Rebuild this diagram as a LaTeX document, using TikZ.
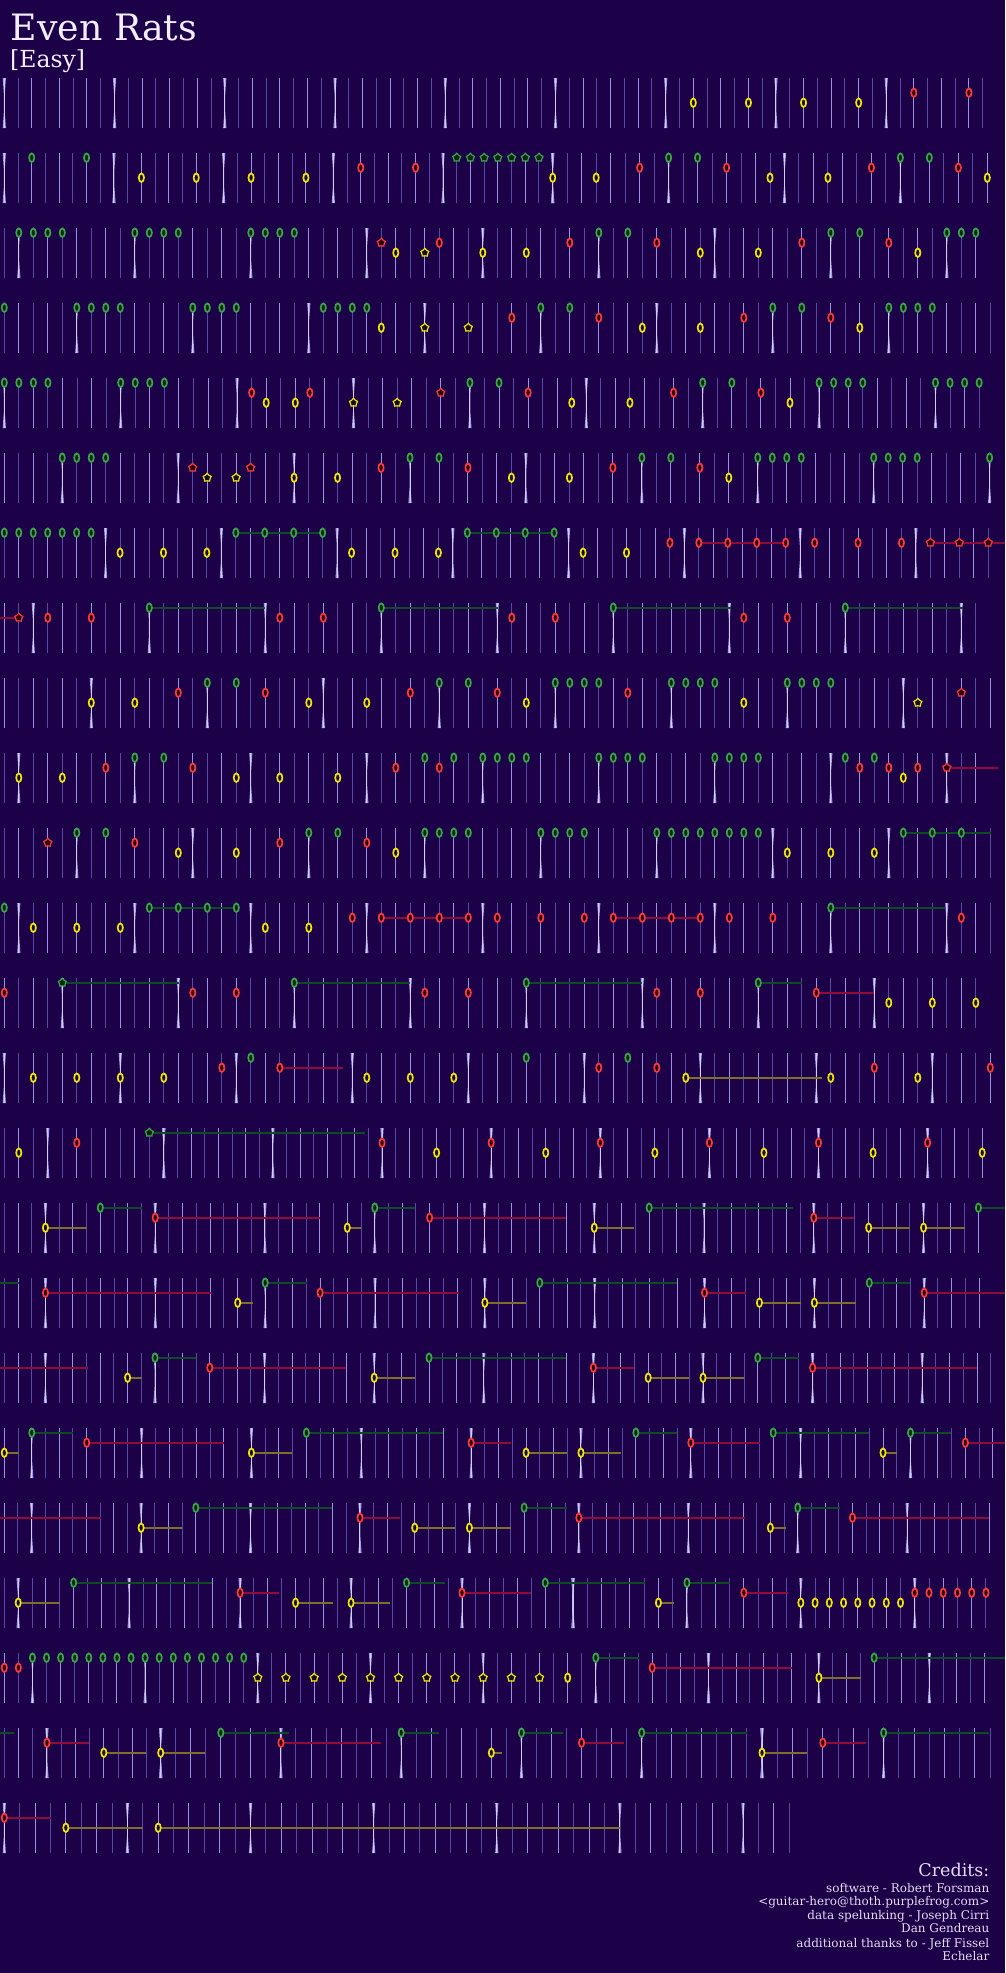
\documentclass[tikz,border=0pt]{standalone}
\usepackage{fontspec}
\setmainfont{DejaVu Serif}
\definecolor{bg}{HTML}{1C0048}
\definecolor{measc}{HTML}{D4CEFF}
\definecolor{measglow}{HTML}{A49CEE}
\definecolor{beatc}{HTML}{9A92E2}
\definecolor{halfc}{HTML}{5848A8}
\definecolor{ng}{HTML}{3FA34D}
\definecolor{fg}{HTML}{06260C}
\definecolor{nr}{HTML}{FF3B3B}
\definecolor{fr}{HTML}{240006}
\definecolor{ny}{HTML}{F2E411}
\definecolor{fy}{HTML}{141000}
\definecolor{sg}{HTML}{0F4A24}
\definecolor{sr}{HTML}{8E0B3A}
\definecolor{sy}{HTML}{7F6E2E}
\definecolor{titlec}{HTML}{F2EEFF}
\definecolor{credc}{HTML}{E4DCF2}
\def\laneg{4.7}\def\laner{14.7}\def\laney{24.7}
\newcommand\snapto[1]{%
  \xdef\sx{#1}%
  \foreach \sa/\ss/\sn/\sp in \segs {%
    \pgfmathtruncatemacro\ok{and(#1>=\sa-\ss/2, #1<\sa+\sn*\ss+\ss/2)}%
    \ifnum\ok=1
      \pgfmathsetmacro\tmpx{\sa+round((#1-\sa)/\ss)*\ss}%
      \xdef\sx{\tmpx}%
    \fi
  }%
}
\newcommand\chartrow[3]{%
  \def\segs{#2}%
  \pgfmathsetmacro\T{78+75*(#1-1)}%
  \foreach \a/\s/\n/\p in \segs {%
    \foreach \i in {0,...,\n} {%
      \pgfmathsetmacro\xx{\a+\i*\s}%
      \pgfmathtruncatemacro\m{mod(\i+\p,8)}%
      \pgfmathtruncatemacro\h{mod(\i+\p,2)}%
      \ifnum\m=0
        \fill[measglow] (\xx-1.6,\T) -- (\xx+1.6,\T) -- (\xx+0.4,\T+17) -- (\xx+0.4,\T+33) -- (\xx+1.6,\T+50) -- (\xx-1.6,\T+50) -- (\xx-0.4,\T+33) -- (\xx-0.4,\T+17) -- cycle;
        \draw[measc,line width=1pt] (\xx,\T) -- (\xx,\T+50);
      \else\ifnum\h=0
        \draw[beatc,line width=1pt] (\xx,\T) -- (\xx,\T+50);
      \else
        \draw[halfc,line width=1pt] (\xx,\T) -- (\xx,\T+50);
      \fi\fi
    }%
  }%
  \foreach \x/\l/\t/\e in {#3} {%
    \pgfmathsetmacro\ly{\T+\csname lane\l\endcsname}%
    \if\t n%
      \draw[draw=s\l,line width=2pt] (0,\ly) -- (\e,\ly);%
    \else
      \snapto{\x}%
      \ifdim\e pt>0pt \draw[draw=s\l,line width=2pt] (\sx,\ly) -- (\e,\ly);\fi
      \if\t s%
        \filldraw[draw=n\l,fill=f\l,line width=1.2pt,shift={(\sx,\ly)}] (90:4.4pt) -- (126:3.1pt) -- (162:4.2pt) -- (198:3.1pt) -- (234:4.2pt) -- (270:3.1pt) -- (306:4.2pt) -- (342:3.1pt) -- (18:4.2pt) -- (54:3.1pt) -- cycle;%
      \else
        \filldraw[draw=n\l,fill=f\l,line width=1.7pt] (\sx,\ly) ellipse [x radius=2.6pt,y radius=4.3pt];%
      \fi
    \fi
  }%
}
\tikzset{
  credit/.style={anchor=base east,inner sep=0pt,text=credc,font=\fontsize{12}{14}\selectfont},
  creditbig/.style={anchor=base east,inner sep=0pt,text=credc,font=\fontsize{17.5}{20}\selectfont}
}
\begin{document}
\begin{tikzpicture}[x=1pt,y=-1pt]
\useasboundingbox (0,0) rectangle (1005,1973);
\fill[bg] (0,0) rectangle (1005,1973);
\node[anchor=base west,inner sep=0pt,text=titlec,font=\fontsize{36.3}{40}\selectfont] (title) at (10.5,40) {Even Rats};
\node[anchor=base west,inner sep=0pt,text=titlec,font=\fontsize{23.5}{26}\selectfont] (level) at (10,67.5) {[Easy]};

\chartrow{1}{4.3/13.78/71/0}{693/y/o/0, 748.4/y/o/0, 804.3/y/o/0, 859/y/o/0, 914/r/o/0, 968.7/r/o/0}

\chartrow{2}{4.3/13.71/40/0, 552.7/14.487/30/0}{32.3/g/o/0, 87.3/g/o/0, 142/y/o/0, 196.7/y/o/0, 251.7/y/o/0, 306.3/y/o/0, 361/r/o/0, 416/r/o/0, 457/g/s/0, 471/g/s/0, 484/g/s/0, 498/g/s/0, 512/g/s/0, 525/g/s/0, 539/g/s/0, 552.7/y/o/0, 596/y/o/0, 639.7/r/o/0, 668.7/g/o/0, 697.7/g/o/0, 726.7/r/o/0, 770/y/o/0, 828/y/o/0, 871.7/r/o/0, 900.7/g/o/0, 929.7/g/o/0, 958.7/r/o/0, 987.7/y/o/0}

\chartrow{3}{4.3/14.5/67/7}{19.3/g/o/0, 34/g/o/0, 48.3/g/o/0, 63/g/o/0, 135.3/g/o/0, 149.7/g/o/0, 164.3/g/o/0, 178.7/g/o/0, 250.3/g/o/0, 264.1/g/o/0, 279.2/g/o/0, 293.1/g/o/0, 381.1/r/s/0, 396.2/y/o/0, 425.1/y/s/0, 440.2/r/o/0, 483/y/o/0, 527/y/o/0, 569.8/r/o/0, 598.7/g/o/0, 627.6/g/o/0, 656.6/r/o/0, 700.6/y/o/0, 758.3/y/o/0, 802/r/o/0, 831/g/o/0, 860/g/o/0, 889/r/o/0, 918/y/o/0, 947/g/o/0, 961.3/g/o/0, 976/g/o/0}

\chartrow{4}{4.3/14.5/68/3}{4.7/g/o/0, 77.7/g/o/0, 92/g/o/0, 106.7/g/o/0, 121/g/o/0, 193.3/g/o/0, 207.7/g/o/0, 222/g/o/0, 236.7/g/o/0, 324.5/g/o/0, 338.4/g/o/0, 352.2/g/o/0, 367.3/g/o/0, 382.4/y/o/0, 425.1/y/s/0, 469.2/y/s/0, 512/r/o/0, 540.9/g/o/0, 569.8/g/o/0, 598.7/r/o/0, 642.7/y/o/0, 700.6/y/o/0, 744.6/r/o/0, 774/g/o/0, 803/g/o/0, 831.7/r/o/0, 860.3/y/o/0, 889.3/g/o/0, 903.7/g/o/0, 918/g/o/0, 932.3/g/o/0}

\chartrow{5}{4.3/14.55/67/0}{4.7/g/o/0, 19.3/g/o/0, 34/g/o/0, 48.7/g/o/0, 121.3/g/o/0, 136/g/o/0, 150.3/g/o/0, 165.3/g/o/0, 252.8/r/o/0, 267.9/y/o/0, 296.8/y/o/0, 311.9/r/o/0, 356/y/s/0, 400/y/s/0, 442.7/r/s/0, 471.7/g/o/0, 500.6/g/o/0, 529.5/r/o/0, 573.6/y/o/0, 631.4/y/o/0, 675.4/r/o/0, 704.4/g/o/0, 733.3/g/o/0, 761.3/r/o/0, 790.3/y/o/0, 819/g/o/0, 833.7/g/o/0, 848.3/g/o/0, 862.7/g/o/0, 935.3/g/o/0, 950/g/o/0, 964.3/g/o/0, 979.3/g/o/0}

\chartrow{6}{4.3/14.49/68/4}{63.3/g/o/0, 77.7/g/o/0, 92.3/g/o/0, 106.3/g/o/0, 192.3/r/s/0, 206.7/y/s/0, 235.7/y/s/0, 250/r/s/0, 293.1/y/o/0, 337.1/y/o/0, 381.1/r/o/0, 410/g/o/0, 439/g/o/0, 468/r/o/0, 510.7/y/o/0, 568.5/y/o/0, 612.5/r/o/0, 641.5/g/o/0, 669.2/g/o/0, 699.3/r/o/0, 727/y/o/0, 756.3/g/o/0, 771/g/o/0, 785.7/g/o/0, 800.3/g/o/0, 873.3/g/o/0, 888/g/o/0, 902.7/g/o/0, 917.3/g/o/0, 990.3/g/o/0}

\chartrow{7}{4.3/14.47/68/1}{4.7/g/o/0, 19.3/g/o/0, 34/g/o/0, 48.7/g/o/0, 63.3/g/o/0, 78/g/o/0, 92.7/g/o/0, 121.3/y/o/0, 164.7/y/o/0, 207.7/y/o/0, 236.7/g/o/265.4, 265.4/g/o/294.3, 294.3/g/o/322, 322/g/o/0, 350.9/y/o/0, 395/y/o/0, 437.7/y/o/0, 466.6/g/o/495.6, 495.6/g/o/524.5, 524.5/g/o/552.2, 552.2/g/o/0, 582.4/y/o/0, 625.1/y/o/0, 667.9/r/o/0, 698/r/o/727, 727/r/o/756.3, 756.3/r/o/785, 785/r/o/0, 814/r/o/0, 857.3/r/o/0, 900.7/r/o/0, 929.7/r/s/958.7, 958.7/r/s/988, 988/r/s/1005}

\chartrow{8}{4.3/14.5/67/6}{0/r/n/19.3, 19.3/r/s/0, 48.7/r/o/0, 92.3/r/o/0, 150.3/g/o/265.4, 280.5/r/o/0, 324.5/r/o/0, 382.4/g/o/498, 513.2/r/o/0, 557.2/r/o/0, 615/g/o/730.8, 745.9/r/o/0, 789.3/r/o/0, 847.3/g/o/963.3}

\chartrow{9}{4.3/14.5/68/2}{92.3/y/o/0, 135.7/y/o/0, 179/r/o/0, 207.7/g/o/0, 236.7/g/o/0, 265.4/r/o/0, 309.4/y/o/0, 366/y/o/0, 410/r/o/0, 439/g/o/0, 468/g/o/0, 496.8/r/o/0, 525.8/y/o/0, 554.7/g/o/0, 569.8/g/o/0, 583.6/g/o/0, 598.7/g/o/0, 626.4/r/o/0, 670.4/g/o/0, 685.5/g/o/0, 699.3/g/o/0, 714.4/g/o/0, 743.4/y/o/0, 786.3/g/o/0, 801/g/o/0, 815.3/g/o/0, 830.3/g/o/0, 917.3/y/s/0, 960.7/r/s/0}

\chartrow{10}{4.3/14.5/67/7}{19.3/y/o/0, 63/y/o/0, 106.3/r/o/0, 135.3/g/o/0, 164.3/g/o/0, 193.3/r/o/0, 236.7/y/o/0, 279.2/y/o/0, 337.1/y/o/0, 395/r/o/0, 423.9/g/o/0, 439/r/o/0, 452.8/g/o/0, 481.7/g/o/0, 496.8/g/o/0, 510.7/g/o/0, 525.8/g/o/0, 597.5/g/o/0, 612.5/g/o/0, 626.4/g/o/0, 641.5/g/o/0, 713.2/g/o/0, 728.3/g/o/0, 742.1/g/o/0, 757.7/g/o/0, 845/g/o/0, 859.7/r/o/0, 874.3/g/o/0, 888.7/r/o/0, 903.3/y/o/0, 917.7/r/o/0, 947/r/s/997.7}

\chartrow{11}{4.3/14.5/68/3}{48.3/r/s/0, 77.3/g/o/0, 106.3/g/o/0, 135/r/o/0, 178.3/y/o/0, 236.3/y/o/0, 279.2/r/o/0, 308.2/g/o/0, 337.1/g/o/0, 366/r/o/0, 396.2/y/o/0, 423.9/g/o/0, 439/g/o/0, 452.8/g/o/0, 467.9/g/o/0, 539.6/g/o/0, 554.7/g/o/0, 568.5/g/o/0, 583.6/g/o/0, 655.3/g/o/0, 670.4/g/o/0, 684.2/g/o/0, 699.3/g/o/0, 713.2/g/o/0, 728.3/g/o/0, 742.1/g/o/0, 757.3/g/o/0, 786.3/y/o/0, 830.3/y/o/0, 874/y/o/0, 903.3/g/o/932.3, 932.3/g/o/961.3, 961.3/g/o/990.7}

\chartrow{12}{4.3/14.5/68/7}{4.7/g/o/0, 34/y/o/0, 77.3/y/o/0, 121/y/o/0, 150/g/o/179, 179/g/o/208, 208/g/o/237, 237/g/o/0, 265.4/y/o/0, 309.4/y/o/0, 352.2/r/o/0, 381.1/r/o/410, 410/r/o/439, 439/r/o/468, 468/r/o/0, 496.8/r/o/0, 540.9/r/o/0, 584.9/r/o/0, 613.8/r/o/641.5, 641.5/r/o/670.4, 670.4/r/o/699.3, 699.3/r/o/0, 728.3/r/o/0, 772/r/o/0, 829.3/g/o/945.3, 959.7/r/o/0}

\chartrow{13}{4.3/14.5/67/4}{4.7/r/o/0, 63/g/s/179, 193.3/r/o/0, 236.7/r/o/0, 294.3/g/o/410, 423.9/r/o/0, 467.9/r/o/0, 525.8/g/o/641.5, 655.3/r/o/0, 699.3/r/o/0, 757.7/g/o/801.7, 816/r/o/874.3, 889/y/o/0, 932.7/y/o/0, 976.7/y/o/0}

\chartrow{14}{4.3/14.5/68/0}{34/y/o/0, 77.3/y/o/0, 121/y/o/0, 164.3/y/o/0, 222.3/r/o/0, 250.3/g/o/0, 279.2/r/o/343.4, 366/y/o/0, 410/y/o/0, 452.8/y/o/0, 525.8/g/o/0, 597.5/r/o/0, 626.4/g/o/0, 655.3/r/o/0, 684.2/y/o/821.7, 829.3/y/o/0, 872.7/r/o/0, 916.3/y/o/0, 988.7/r/o/0}

\chartrow{15}{4.3/14.5/11/5, 163.8/13.64/60/0}{19.3/y/o/0, 77.3/r/o/0, 150/g/s/364.8, 379.9/r/o/0, 434/y/o/0, 488/r/o/0, 542/y/o/0, 597.5/r/o/0, 651.5/y/o/0, 705.6/r/o/0, 762.3/y/o/0, 817.3/r/o/0, 872.3/y/o/0, 927.7/r/o/0, 982.3/y/o/0}

\chartrow{16}{4.3/13.72/71/5}{45.7/y/o/87, 100.7/g/o/142, 155.7/r/o/320, 347.3/y/o/361, 375/g/o/415.3, 429.3/r/o/566, 595/y/o/634, 649/g/o/792.7, 813.7/r/o/854.3, 868.3/y/o/909.7, 923.3/y/o/964.7, 978.3/g/o/1005}

\chartrow{17}{4.3/13.73/71/5}{0/g/n/19.3, 46/r/o/211.7, 239.3/y/o/252.8, 266.7/g/o/307, 320.7/r/o/459, 484.3/y/o/525.8, 539.6/g/o/677.3, 705/r/o/746.3, 759.7/y/o/801, 814.3/y/o/855.7, 869/g/o/910, 923.7/r/o/1005}

\chartrow{18}{4.3/13.70/72/5}{0/r/n/88.3, 127.7/y/o/141.7, 155/g/o/196, 210/r/o/346, 373.6/y/o/415, 429/g/o/566, 593.3/r/o/634.3, 648/y/o/689.3, 703/y/o/744, 758/g/o/799, 812.7/r/o/976.7}

\chartrow{19}{4.3/13.73/72/6}{4.7/y/o/19, 32.3/g/o/73.3, 87/r/o/224, 251.6/y/o/291.8, 305.6/g/o/442.7, 470.4/r/o/510.7, 525.8/y/o/567.3, 581/y/o/621.3, 636.3/g/o/677.3, 691.3/r/o/759.7, 773.3/g/o/869.3, 883.3/y/o/896.7, 910.3/g/o/951.3, 965.3/r/o/1005}

\chartrow{20}{4.3/13.68/72/6}{0/r/n/101.3, 141.3/y/o/182.3, 196/g/o/332, 359.7/r/o/400, 415/y/o/455.3, 470.4/y/o/510.7, 525.8/g/o/566.7, 580.7/r/o/745.3, 772.7/y/o/786, 799.7/g/o/840, 853.3/r/o/989}

\chartrow{21}{4.3/13.87/41/7, 573/14.24/29/0}{18.3/y/o/60, 74/g/o/212, 239.3/r/o/279, 293/y/o/333, 347/y/o/390, 403.8/g/o/445, 460.4/r/o/530.8, 545.3/g/o/645.3, 659.3/y/o/673.7, 687.7/g/o/730.3, 744.7/r/o/787.7, 801.7/y/o/0, 815.7/y/o/0, 830/y/o/0, 844.3/y/o/0, 858.7/y/o/0, 872.7/y/o/0, 887/y/o/0, 901.3/y/o/0, 915.3/r/o/0, 929.3/r/o/0, 943.7/r/o/0, 957.7/r/o/0, 972/r/o/0, 986/r/o/0}

\chartrow{22}{4.3/14.084/50/6, 708.5/13.8/20/0}{4.7/r/o/0, 19/r/o/0, 33/g/o/0, 47/g/o/0, 61/g/o/0, 75.3/g/o/0, 89.3/g/o/0, 103.3/g/o/0, 117.7/g/o/0, 131.7/g/o/0, 145.7/g/o/0, 159.7/g/o/0, 173.7/g/o/0, 187.7/g/o/0, 201.7/g/o/0, 215.7/g/o/0, 229.7/g/o/0, 243.7/g/o/0, 256.6/y/s/0, 284.3/y/s/0, 313.2/y/s/0, 340.9/y/s/0, 369.8/y/s/0, 397.5/y/s/0, 425.1/y/s/0, 454/y/s/0, 481.7/y/s/0, 510.7/y/s/0, 539.6/y/s/0, 567.7/y/o/0, 596/g/o/638.7, 652.3/r/o/791.7, 819.3/y/o/860.7, 874.3/g/o/1005}

\chartrow{23}{4.3/14.22/11/5, 160.7/15.03/40/0, 762/15.2/15/0}{0/g/n/14, 47/r/o/89.3, 103.7/y/o/146.3, 160.7/y/o/205, 219.7/g/o/289, 278/r/o/381, 397.5/g/o/439, 488/y/o/502, 517/g/o/563.3, 579/r/o/624.3, 639.7/g/o/746.7, 762/y/o/806.7, 821.7/r/o/866.3, 881.3/g/o/989.3}

\chartrow{24}{4.3/15.39/51/0}{4.3/r/o/51, 66.3/y/o/143.3, 158.7/y/o/620}

\node[creditbig] (credits) at (989.5,1876.7) {Credits:};
\node[credit] (c1) at (989.5,1892.3) {software - Robert Forsman};
\node[credit] (c2) at (989.5,1905.3) {<guitar-hero@thoth.purplefrog.com>};
\node[credit] (c3) at (989.5,1919) {data spelunking - Joseph Cirri};
\node[credit] (c4) at (989.5,1932.7) {Dan Gendreau};
\node[credit] (c5) at (989.5,1947.3) {additional thanks to - Jeff Fissel};
\node[credit] (c6) at (989.5,1960.7) {Echelar};
\end{tikzpicture}
\end{document}
